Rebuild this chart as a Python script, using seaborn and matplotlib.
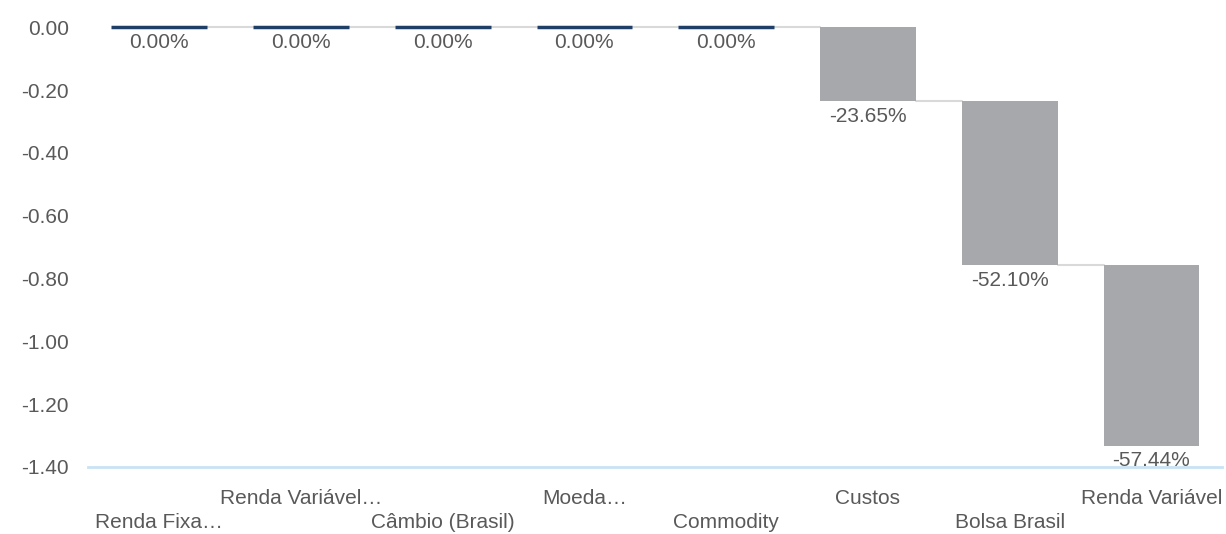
import numpy as np
import pandas as pd
import matplotlib.pyplot as plt
import seaborn as sns

# data
categories = ['Renda Fixa…', 'Renda Variável…', 'Câmbio (Brasil)', 'Moeda…',
              'Commodity', 'Custos', 'Bolsa Brasil', 'Renda Variável']
deltas = [0.0, 0.0, 0.0, 0.0, 0.0, -0.2365, -0.5210, -0.5744]
labels = ['0.00%', '0.00%', '0.00%', '0.00%', '0.00%', '-23.65%', '-52.10%', '-57.44%']
yticks = [0.0, -0.2, -0.4, -0.6, -0.8, -1.0, -1.2, -1.4]

ends = np.cumsum(deltas)
starts = ends - np.array(deltas)

df = pd.DataFrame({'cat': categories, 'delta': deltas, 'start': starts})

sns.set_theme(style='white')
plt.rcParams['font.family'] = ['Liberation Sans', 'DejaVu Sans']

txt = '#595959'
grey = '#A7A8AB'
navy = '#1F3F66'
fs = 15

fig, ax = plt.subplots(figsize=(12.26, 5.34), dpi=100)
fig.subplots_adjust(left=0.072, right=0.997, top=0.955, bottom=0.1255)

sns.barplot(data=df, x='cat', y='delta', order=categories, bottom=df['start'].values,
            color=grey, width=0.675, saturation=1, ax=ax, zorder=2)

for p, d in zip(ax.patches, deltas):
    p.set_linewidth(0)
    if d == 0:
        p.set_edgecolor(navy)
        p.set_linewidth(2.5)
        p.set_facecolor(navy)

# connectors
w = 0.675
for i in range(len(categories) - 1):
    ax.plot([i + w / 2, i + 1 - w / 2], [ends[i], ends[i]], color='#D9D9D9', lw=1.5, zorder=1)

# value labels
for i, lab in enumerate(labels):
    ax.annotate(lab, (i, min(starts[i], ends[i])), xytext=(0, -4), textcoords='offset points',
                ha='center', va='top', fontsize=fs, color=txt)

ax.set_xlim(-0.5, len(categories) - 0.5)
ax.set_ylim(-1.4, 0.01)
ax.set_yticks(yticks)
ax.set_yticklabels([f'{v:.2f}' for v in yticks])

ticks = [c + '\n' if i % 2 else '\n' + c for i, c in enumerate(categories)]
ax.set_xticks(range(len(categories)))
ax.set_xticklabels(ticks, linespacing=1.3)
ax.tick_params(axis='both', labelsize=fs, colors=txt, length=0)
ax.tick_params(axis='x', pad=16)
ax.tick_params(axis='y', pad=14)

ax.set_xlabel('')
ax.set_ylabel('')
for s in ['top', 'right', 'left']:
    ax.spines[s].set_visible(False)
ax.spines['bottom'].set_color('#C9E2F6')
ax.spines['bottom'].set_linewidth(2)

plt.savefig('out.png', dpi=100)
